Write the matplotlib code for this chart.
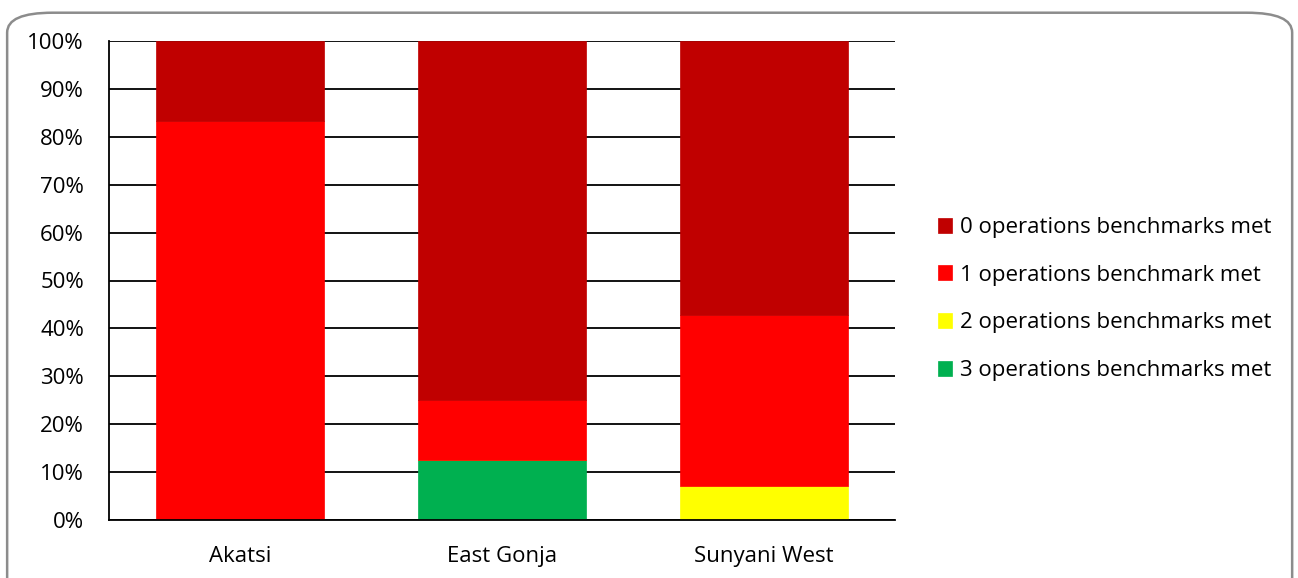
import matplotlib
matplotlib.use("Agg")
import matplotlib.pyplot as plt
from matplotlib.patches import FancyBboxPatch
import numpy as np

plt.rcParams['font.family'] = ['Open Sans', 'DejaVu Sans']

categories = ["Akatsi", "East Gonja", "Sunyani West"]
series_names = ["0 operations benchmarks met", "1 operations benchmark met",
                "2 operations benchmarks met", "3 operations benchmarks met"]
zero_met = [16.7, 75.0, 57.1]
one_met = [83.3, 12.5, 35.8]
two_met = [0.0, 0.0, 7.1]
three_met = [0.0, 12.5, 0.0]
colors = ["#C00000", "#FF0000", "#FFFF00", "#00B050"]
yticks = [0, 10, 20, 30, 40, 50, 60, 70, 80, 90, 100]
ytick_labels = [f"{v}%" for v in yticks]

fig = plt.figure(figsize=(12.98, 5.78), dpi=100)
border = FancyBboxPatch((0.0055, -0.05), 0.99, 1.028, transform=fig.transFigure,
                        boxstyle="round,pad=0,rounding_size=0.035",
                        fc="white", ec="#8C8C8C", lw=1.8, zorder=-5,
                        mutation_aspect=578/1298*2.2)
fig.patches.append(border)

ax = fig.add_axes([109/1298, 1-520/578, (895-109)/1298, (520-41)/578])
ax.set_zorder(2)
x = np.arange(len(categories))
w = 0.645
stack_order = [(three_met, 3), (two_met, 2), (one_met, 1), (zero_met, 0)]
bottom = np.zeros(len(categories))
handles = {}
for vals, idx in stack_order:
    v = np.array(vals)
    b = ax.bar(x, v, w, bottom=bottom, color=colors[idx], zorder=3,
               edgecolor=colors[idx], linewidth=0.5)
    handles[idx] = b
    bottom += v

ax.set_xlim(-0.5, 2.5)
ax.set_ylim(0, 100)
ax.set_yticks(yticks)
ax.set_yticklabels(ytick_labels)
ax.set_xticks(x)
ax.set_xticklabels(categories)
ax.yaxis.grid(True, color="black", lw=1.3, zorder=1)
ax.set_axisbelow(True)
for s in ["top", "right"]:
    ax.spines[s].set_visible(False)
for s in ["left", "bottom"]:
    ax.spines[s].set_linewidth(1.3)
    ax.spines[s].set_zorder(4)
ax.tick_params(axis='both', length=0, labelsize=16, colors="black")
ax.tick_params(axis='y', pad=18)
ax.tick_params(axis='x', pad=19)
ax.patch.set_alpha(0)

leg = fig.legend([handles[i] for i in range(4)], series_names,
                 loc="center left", bbox_to_anchor=(918/1298, 1-299/578),
                 frameon=False, fontsize=16, handlelength=0.65, handleheight=0.65,
                 handletextpad=0.32, labelspacing=1.2)
leg.set_zorder(3)

fig.savefig("out.png", dpi=100)
